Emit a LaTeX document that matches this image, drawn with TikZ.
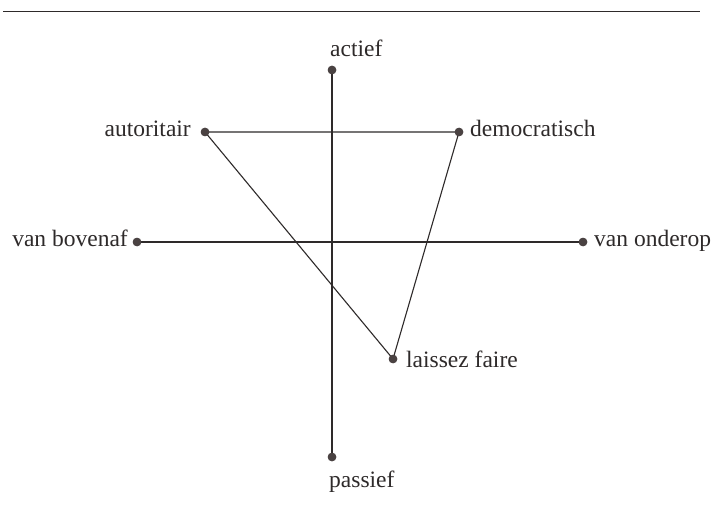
\documentclass[tikz,border=0pt]{standalone}
\usepackage{fontspec}
\setmainfont{Liberation Serif}
\definecolor{ink}{HTML}{2E2A2A}
\definecolor{dotc}{HTML}{4A4242}
\begin{document}
\begin{tikzpicture}[x=1pt,y=-1pt,
  pt/.style={circle,fill=dotc,inner sep=0pt,minimum size=8.5pt},
  lab/.style={inner sep=0pt,font=\fontsize{23.5}{26}\selectfont,text=ink},
  ln/.style={draw=ink,line width=1.1pt}]
\useasboundingbox[fill=white] (0,0) rectangle (712,513);
\coordinate (tl) at (3,11.5);
\coordinate (tr) at (700,11.5);
\draw[draw=ink,line width=1.6pt] (tl) -- (tr);
% dots
\node[pt] (act) at (332,70) {};
\node[pt] (pas) at (332,457) {};
\node[pt] (aut) at (205,132) {};
\node[pt] (dem) at (459,132) {};
\node[pt] (bov) at (137,242) {};
\node[pt] (ond) at (583,242) {};
\node[pt] (lai) at (393,359) {};
% connectors
\draw[ln] (act.center) -- (pas.center);
\draw[ln] (bov.center) -- (ond.center);
\draw[ln] (aut.center) -- (dem.center) -- (lai.center) -- cycle;
% redraw dots on top
\foreach \n in {act,pas,aut,dem,bov,ond,lai} \fill[dotc] (\n) circle (4.25pt);
% labels
\node[lab,anchor=base west] (tact) at (330,57) {actief};
\node[lab,anchor=base west] (tpas) at (329,487) {passief};
\node[lab,anchor=base east] (taut) at (191,137) {autoritair};
\node[lab,anchor=base west] (tdem) at (470,137) {democratisch};
\node[lab,anchor=base east] (tbov) at (128,247) {van bovenaf};
\node[lab,anchor=base west] (tond) at (594,247) {van onderop};
\node[lab,anchor=base west] (tlai) at (406,367) {laissez faire};
\end{tikzpicture}
\end{document}
